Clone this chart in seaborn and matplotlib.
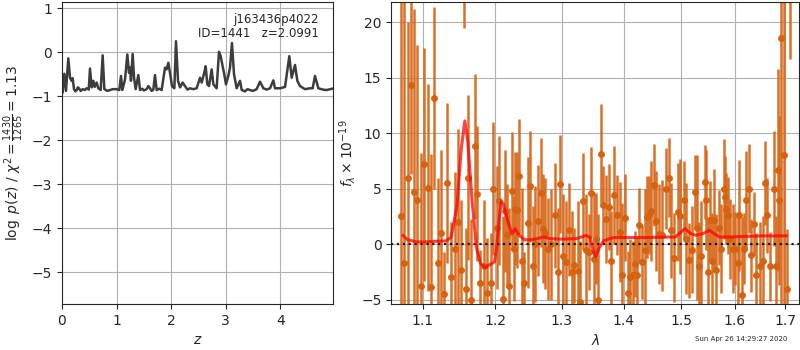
import numpy as np
import matplotlib
matplotlib.use("Agg")
import matplotlib.pyplot as plt
from matplotlib.ticker import NullLocator, FixedFormatter, FixedLocator
import seaborn as sns

# redshift probability, log p(z)
pz_z = [0.012, 0.043, 0.073, 0.116, 0.147, 0.177, 0.195, 0.22, 0.245, 0.269, 0.29, 0.312,
        0.342, 0.38, 0.42, 0.45, 0.49, 0.513, 0.544, 0.574, 0.599, 0.635, 0.666,
        0.709, 0.745, 0.776, 0.83, 0.88, 0.93, 1.0, 1.05, 1.081, 1.106, 1.155,
        1.197, 1.228, 1.246, 1.264, 1.295, 1.32, 1.35, 1.399, 1.43, 1.47, 1.5,
        1.552, 1.582, 1.613, 1.64, 1.674, 1.704, 1.735, 1.78, 1.826, 1.888, 1.918, 1.949,
        1.979, 2.016, 2.059, 2.089, 2.126, 2.163, 2.211, 2.254, 2.3, 2.346, 2.407,
        2.468, 2.529, 2.56, 2.602, 2.633, 2.663, 2.694, 2.743, 2.773, 2.834,
        2.877, 2.908, 2.944, 2.969, 3.005, 3.048, 3.079, 3.115, 3.152, 3.201,
        3.262, 3.293, 3.354, 3.4, 3.445, 3.5, 3.567, 3.629, 3.69, 3.75, 3.812,
        3.873, 3.903, 3.995, 4.087, 4.166, 4.209, 4.27, 4.313, 4.362, 4.453,
        4.545, 4.594, 4.636, 4.698, 4.78, 4.85, 4.985]
pz_log = [-0.92, -0.49, -0.88, -0.14, -0.58, -0.65, -0.59, -0.84, -0.89, -0.86, -0.80, -0.82,
          -0.88, -0.84, -0.86, -0.82, -0.85, -0.37, -0.80, -0.65, -0.79, -0.69, -0.82,
          -0.86, -0.07, -0.84, -0.88, -0.86, -0.84, -0.84, -0.86, -0.54, -0.86, -0.62,
          -0.05, -0.47, -0.35, -0.65, -0.04, -0.58, -0.84, -0.52, -0.86, -0.83, -0.87,
          -0.84, -0.77, -0.82, -0.88, -0.85, -0.52, -0.86, -0.83, -0.86, -0.35, -0.39, -0.24,
          -0.47, -0.77, -0.82, 0.25, -0.65, -0.80, -0.69, -0.77, -0.85, -0.82, -0.84,
          -0.82, -0.58, -0.69, -0.49, -0.32, -0.73, -0.77, -0.39, -0.73, -0.82,
          0.01, -0.09, -0.32, -0.47, -0.73, -0.54, -0.35, 0.21, -0.50, -0.82,
          -0.65, -0.86, -0.89, -0.84, -0.86, -0.88, -0.84, -0.67, -0.82, -0.85, -0.82,
          -0.64, -0.82, -0.82, -0.79, -0.09, -0.58, -0.29, -0.65, -0.77, -0.84,
          -0.82, -0.82, -0.54, -0.82, -0.85, -0.86, -0.82]

# spectrum: wavelength (micron), flux and error (x 1e-19)
spec_lam = [1.0717, 1.0756, 1.0812, 1.0847, 1.0890, 1.0925, 1.0978, 1.1022, 1.1066, 1.1111,
            1.1155, 1.1200, 1.1245, 1.1290, 1.1331, 1.1377, 1.1427, 1.1473, 1.1520, 1.1561,
            1.1585, 1.1608, 1.1659, 1.1706, 1.1739, 1.1786, 1.1833, 1.1881, 1.1942, 1.1966,
            1.2025, 1.2049, 1.2107, 1.2146, 1.2170, 1.2204, 1.2238, 1.2268, 1.2293, 1.2317,
            1.2352, 1.2392, 1.2427, 1.2477, 1.2517, 1.2552, 1.2587, 1.2627, 1.2678, 1.2714,
            1.2739, 1.2780, 1.2832, 1.2894, 1.2935, 1.2977, 1.3013, 1.3065, 1.3107, 1.3160,
            1.3197, 1.3250, 1.3287, 1.3330, 1.3383, 1.3426, 1.3464, 1.3507, 1.3547, 1.3585,
            1.3629, 1.3667, 1.3711, 1.3750, 1.3788, 1.3844, 1.3888, 1.3944, 1.3972, 1.4028,
            1.4073, 1.4113, 1.4158, 1.4186, 1.4226, 1.4255, 1.4312, 1.4358, 1.4398, 1.4439,
            1.4474, 1.4526, 1.4561, 1.4602, 1.4661, 1.4732, 1.4780, 1.4828, 1.4882, 1.4940,
            1.4976, 1.5048, 1.5090, 1.5139, 1.5199, 1.5260, 1.5291, 1.5334, 1.5371, 1.5433,
            1.5458, 1.5495, 1.5539, 1.5570, 1.5601, 1.5645, 1.5695, 1.5745, 1.5790, 1.5809,
            1.5834, 1.5872, 1.5917, 1.5962, 1.6013, 1.6064, 1.6090, 1.6142, 1.6174, 1.6226,
            1.6272, 1.6318, 1.6383, 1.6423, 1.6489, 1.6548, 1.6601, 1.6635, 1.6701, 1.6769,
            1.6815, 1.6856, 1.6883, 1.6924, 1.6971, 1.7040, 1.7108]
spec_flux = [2.5, -1.7, 6.0, 14.3, 4.7, 3.95, -3.8, 7.2, 5.1, -3.9,
             13.2, -1.7, 1.0, -4.5, 5.5, -3.0, -0.4, 2.0, -2.3, 24.0,
             -4.0, 6.0, -5.0, 8.8, 4.55, -3.5, -2.0, -4.4, -3.5, 5.0,
             1.5, 3.9, -4.9, 3.0, 0.8, -3.8, 4.8, -0.4, 3.2, 3.1,
             6.1, -1.5, -3.5, 1.95, 5.2, -2.0, 0.0, 2.1, 4.65, 1.4,
             1.0, -0.4, 0.0, 2.6, -2.5, 5.4, -1.1, -1.6, 1.3, -2.5,
             -1.9, -2.4, -5.2, 3.85, -0.5, -0.7, 4.65, -1.3, 0.5, -5.0,
             8.15, 3.5, 2.3, 3.35, -1.5, 4.4, 2.6, 1.1, -2.8, 2.4,
             -4.4, -3.0, -2.8, -1.8, -2.8, 1.7, -1.6, -0.5, 2.45, 2.6,
             3.0, 5.35, 2.1, 0.95, 0.8, 5.0, 6.0, 1.25, -1.2, 2.9,
             2.5, 3.95, 0.5, -1.45, -0.5, 4.7, 1.5, -2.0, -1.1, 5.6,
             3.95, -2.5, 2.15, -1.5, 2.15, -2.3, 1.5, -0.4, 5.0, 4.25,
             3.2, 2.6, 0.5, -0.4, -0.4, -1.7, 2.6, -4.6, -0.4, 3.95,
             5.0, -1.0, 1.85, -2.8, -2.0, -1.5, 5.5, 2.6, -2.0, 5.0,
             -2.0, 6.7, 3.95, 18.6, 8.0, -4.0, 23.0]
spec_err = [22.0, 24.0, 14.0, 8.0, 16.5, 14.0, 12.0, 10.5, 9.3, 12.0,
            8.2, 7.7, 7.5, 3.8, 7.2, 5.0, 6.9, 8.4, 6.3, 4.5,
            5.5, 7.4, 7.3, 6.5, 6.1, 3.0, 6.0, 5.0, 4.5, 6.0,
            5.5, 5.8, 7.4, 5.5, 4.6, 7.1, 5.3, 4.7, 5.1, 5.2,
            5.2, 6.6, 2.8, 5.9, 5.0, 5.4, 5.2, 5.0, 4.9, 4.9,
            5.0, 4.6, 5.0, 4.7, 5.8, 4.4, 5.6, 5.5, 4.2, 5.5,
            3.4, 6.3, 5.5, 4.4, 5.0, 3.4, 4.1, 6.0, 4.1, 7.75,
            4.45, 3.5, 3.95, 3.9, 4.5, 4.4, 3.6, 4.5, 6.5, 3.9,
            3.8, 3.5, 3.1, 3.0, 3.5, 3.4, 3.3, 5.5, 3.7, 3.5,
            4.5, 3.7, 4.5, 4.5, 5.0, 3.65, 3.55, 4.3, 4.0, 4.4,
            5.2, 3.5, 5.0, 3.4, 3.9, 3.3, 6.5, 4.0, 5.0, 3.3,
            4.5, 4.95, 3.5, 4.3, 4.6, 5.0, 3.4, 4.0, 4.5, 3.7,
            3.2, 3.45, 3.6, 4.0, 3.3, 4.6, 5.0, 7.05, 3.2, 4.4,
            4.0, 3.3, 2.85, 3.8, 4.0, 4.0, 3.8, 3.4, 3.1, 5.2,
            4.5, 9.1, 7.6, 24.0, 20.0, 5.4, 6.3]

# best-fit model
model_lam = [1.074, 1.080, 1.092, 1.100, 1.131, 1.138, 1.146, 1.152, 1.157, 1.161,
             1.167, 1.173, 1.179, 1.186, 1.193, 1.199, 1.202, 1.206, 1.209, 1.212,
             1.218, 1.224, 1.229, 1.235, 1.243, 1.253, 1.262, 1.272, 1.282, 1.300,
             1.323, 1.331, 1.338, 1.345, 1.351, 1.354, 1.359, 1.367, 1.377, 1.384,
             1.400, 1.438, 1.490, 1.497, 1.507, 1.518, 1.527, 1.540, 1.552, 1.561,
             1.571, 1.592, 1.654, 1.703]
model_flux = [0.8, 0.4, 0.2, 0.2, 0.3, 0.6, 3.4, 8.6, 11.1, 9.3,
              4.0, -0.25, -1.75, -2.1, -1.8, -1.6, -0.25, 2.45, 3.8, 3.6,
              2.15, 0.95, 1.4, 0.8, 0.4, 0.4, 0.5, 0.65, 0.5, 0.45,
              0.5, 0.65, 0.8, 0.6, -0.85, -1.1, -0.4, 0.3, 0.5, 0.6,
              0.6, 0.6, 0.65, 0.95, 1.4, 0.95, 0.8, 0.95, 1.25, 0.95,
              0.65, 0.65, 0.75, 0.75]

lam_ticks = [1.1, 1.2, 1.3, 1.4, 1.5, 1.6, 1.7]

sns.set_style("ticks")
plt.rcParams["font.family"] = ["DejaVu Sans"]
plt.rcParams["font.size"] = 10

fig = plt.figure(figsize=(8, 3.5), dpi=100)
ax1 = fig.add_axes([0.0775, 0.131, 0.339, 0.863])
ax2 = fig.add_axes([0.489, 0.131, 0.51, 0.863])

# p(z) panel
sns.lineplot(x=pz_z, y=pz_log, ax=ax1, color="#3d3d3d", lw=1.8,
             sort=False, estimator=None)
ax1.set_xlim(0, 4.97)
ax1.set_ylim(-5.73, 1.14)
ax1.set_xticks([0, 1, 2, 3, 4])
ax1.set_yticks([1, 0, -1, -2, -3, -4, -5])
ax1.grid(True, color="#b0b0b0", lw=0.8)
ax1.set_xlabel(r"$z$")
ax1.set_ylabel(r"$\log\ p(z)$ / $\chi^2=\frac{1430}{1265}=1.13$")
ax1.text(0.948, 0.965, "j163436p4022\nID=1441   z=2.0991", transform=ax1.transAxes,
         ha="right", va="top", fontsize=8.5, linespacing=1.1)

# spectrum panel
ax2.errorbar(spec_lam, spec_flux, yerr=spec_err, fmt="o", color="#d4620f",
             ecolor="#d8691c", elinewidth=1.8, markersize=4, alpha=0.95, zorder=2)
ax2.axhline(0, color="k", ls=":", lw=1.6, alpha=0.85, zorder=4)
sns.lineplot(x=model_lam, y=model_flux, ax=ax2, color="red", lw=2.2, alpha=0.75,
             sort=False, estimator=None, zorder=5)
ax2.set_xscale("log")
ax2.set_xlim(1.059, 1.729)
ax2.set_ylim(-5.4, 21.8)
ax2.xaxis.set_major_locator(FixedLocator(lam_ticks))
ax2.xaxis.set_major_formatter(FixedFormatter([f"{t:.1f}" for t in lam_ticks]))
ax2.xaxis.set_minor_locator(NullLocator())
ax2.set_yticks([-5, 0, 5, 10, 15, 20])
ax2.grid(True, color="#b0b0b0", lw=0.8)
ax2.set_xlabel(r"$\lambda$")
ax2.set_ylabel(r"$f_\lambda\times10^{-19}$", labelpad=2)

fig.text(0.984, 0.022, "Sun Apr 26 14:29:27 2020", ha="right", va="bottom", fontsize=5)

fig.savefig("out.png", dpi=100)
